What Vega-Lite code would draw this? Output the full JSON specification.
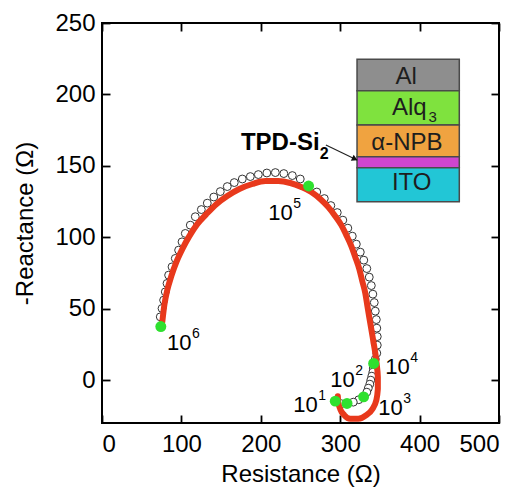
{
  "$schema": "https://vega.github.io/schema/vega-lite/v6.json",
  "width": 397,
  "height": 400,
  "autosize": {"type": "none"},
  "padding": {"left": 102, "top": 23, "right": 25, "bottom": 72},
  "background": "white",
  "config": {
    "view": {"stroke": "black", "strokeWidth": 2},
    "font": "Liberation Sans",
    "axis": {
      "domain": false,
      "grid": false,
      "tickColor": "black",
      "tickWidth": 1.8,
      "tickSize": 8,
      "offset": -8,
      "labelPadding": 10,
      "labelFont": "Liberation Sans",
      "labelFontSize": 24,
      "labelColor": "black",
      "titleFont": "Liberation Sans",
      "titleFontSize": 24,
      "titleFontWeight": "normal",
      "titleColor": "black"
    }
  },
  "datasets": {
    "circles": [
      {"x": 73.4, "y": 44.3}, {"x": 75.6, "y": 50.2}, {"x": 77.6, "y": 56.0}, {"x": 79.7, "y": 61.8},
      {"x": 81.9, "y": 67.7}, {"x": 83.9, "y": 73.5}, {"x": 88.2, "y": 79.3}, {"x": 92.3, "y": 85.2},
      {"x": 96.5, "y": 91.0}, {"x": 100.8, "y": 96.8}, {"x": 104.9, "y": 102.7}, {"x": 111.2, "y": 108.5},
      {"x": 117.5, "y": 114.4}, {"x": 125.1, "y": 119.4}, {"x": 132.6, "y": 123.9}, {"x": 140.8, "y": 128.2},
      {"x": 149.0, "y": 132.0}, {"x": 157.8, "y": 135.5}, {"x": 166.6, "y": 138.3}, {"x": 176.7, "y": 140.8},
      {"x": 186.8, "y": 142.5}, {"x": 196.9, "y": 143.9}, {"x": 207.6, "y": 145.0}, {"x": 218.3, "y": 145.3},
      {"x": 229.0, "y": 144.6}, {"x": 239.7, "y": 143.2}, {"x": 249.7, "y": 140.8}, {"x": 270.5, "y": 131.7},
      {"x": 280.0, "y": 127.1}, {"x": 288.2, "y": 122.2}, {"x": 296.3, "y": 117.3}, {"x": 303.3, "y": 112.0},
      {"x": 309.6, "y": 106.4}, {"x": 315.2, "y": 100.8}, {"x": 320.3, "y": 95.2}, {"x": 325.3, "y": 89.6},
      {"x": 329.7, "y": 84.0}, {"x": 333.5, "y": 78.1}, {"x": 336.6, "y": 72.1}, {"x": 339.2, "y": 66.2},
      {"x": 341.1, "y": 60.2}, {"x": 342.9, "y": 54.3}, {"x": 344.2, "y": 48.3}, {"x": 345.5, "y": 42.4},
      {"x": 346.1, "y": 36.4}, {"x": 346.7, "y": 30.5}, {"x": 346.7, "y": 24.5}, {"x": 346.1, "y": 18.9},
      {"x": 344.2, "y": 14.7}, {"x": 341.7, "y": 8.4}, {"x": 341.1, "y": 5.6}, {"x": 339.8, "y": 2.8},
      {"x": 338.5, "y": 0.0}, {"x": 337.3, "y": -2.8}, {"x": 335.4, "y": -5.6}, {"x": 333.5, "y": -8.4},
      {"x": 323.4, "y": -13.7}, {"x": 316.5, "y": -15.4}, {"x": 301.4, "y": -16.5}
    ],
    "fit": [
      {"i": 1, "x": 75.9, "y": 40.6}, {"i": 2, "x": 78.5, "y": 52.5}, {"i": 3, "x": 82.2, "y": 63.0},
      {"i": 4, "x": 87.3, "y": 72.8}, {"i": 5, "x": 93.6, "y": 82.6}, {"i": 6, "x": 101.1, "y": 91.7},
      {"i": 7, "x": 110.0, "y": 100.8}, {"i": 8, "x": 120.0, "y": 109.2}, {"i": 9, "x": 131.4, "y": 116.2},
      {"i": 10, "x": 144.0, "y": 123.2}, {"i": 11, "x": 157.8, "y": 128.9}, {"i": 12, "x": 172.9, "y": 133.8},
      {"i": 13, "x": 189.3, "y": 137.3}, {"i": 14, "x": 205.7, "y": 139.4}, {"i": 15, "x": 222.0, "y": 139.4},
      {"i": 16, "x": 237.2, "y": 138.0}, {"i": 17, "x": 251.0, "y": 135.2}, {"i": 18, "x": 263.6, "y": 131.7},
      {"i": 19, "x": 274.9, "y": 126.8}, {"i": 20, "x": 285.0, "y": 121.1}, {"i": 21, "x": 293.8, "y": 114.8},
      {"i": 22, "x": 301.4, "y": 108.5}, {"i": 23, "x": 307.7, "y": 101.5}, {"i": 24, "x": 314.0, "y": 93.8},
      {"i": 25, "x": 319.0, "y": 86.1}, {"i": 26, "x": 324.1, "y": 77.7}, {"i": 27, "x": 327.8, "y": 69.3},
      {"i": 28, "x": 331.6, "y": 60.9}, {"i": 29, "x": 334.1, "y": 52.5}, {"i": 30, "x": 336.6, "y": 44.1},
      {"i": 31, "x": 339.2, "y": 35.7}, {"i": 32, "x": 341.7, "y": 27.3}, {"i": 33, "x": 344.2, "y": 18.9},
      {"i": 34, "x": 346.1, "y": 10.5}, {"i": 35, "x": 347.4, "y": 2.1}, {"i": 36, "x": 347.4, "y": -6.3},
      {"i": 37, "x": 345.5, "y": -14.0}, {"i": 38, "x": 340.4, "y": -20.3}, {"i": 39, "x": 332.9, "y": -24.5},
      {"i": 40, "x": 322.8, "y": -27.0}, {"i": 41, "x": 312.8, "y": -27.0}, {"i": 42, "x": 305.2, "y": -24.5},
      {"i": 43, "x": 300.1, "y": -20.3}, {"i": 44, "x": 297.6, "y": -15.4}, {"i": 45, "x": 297.0, "y": -11.2}
    ],
    "green": [
      {"x": 74.1, "y": 37.5}, {"x": 260.2, "y": 135.9}, {"x": 342.1, "y": 11.7},
      {"x": 329.5, "y": -11.7}, {"x": 308.6, "y": -16.3}, {"x": 293.8, "y": -14.7}
    ],
    "freq": [
      {"x": 82, "y": 26, "base": "10", "e": "6"},
      {"x": 209.5, "y": 117, "base": "10", "e": "5"},
      {"x": 356.8, "y": 9.3, "base": "10", "e": "4"},
      {"x": 348, "y": -19.6, "base": "10", "e": "3"},
      {"x": 287.5, "y": 0, "base": "10", "e": "2"},
      {"x": 241, "y": -17.5, "base": "10", "e": "1"}
    ],
    "stack": [
      {"name": "Al", "x": 321.2, "x2": 450, "y": 224.6, "y2": 202.6},
      {"name": "Alq3", "x": 321.2, "x2": 450, "y": 202.6, "y2": 178.6},
      {"name": "α-NPB", "x": 321.2, "x2": 450, "y": 178.6, "y2": 156.4},
      {"name": "TPD-Si2", "x": 321.2, "x2": 450, "y": 156.4, "y2": 148.7},
      {"name": "ITO", "x": 321.2, "x2": 450, "y": 148.7, "y2": 124.9}
    ],
    "stacktext": [
      {"x": 383, "y": 212.4, "t": "Al"},
      {"x": 387, "y": 190.8, "t": "Alq"},
      {"x": 384, "y": 166.0, "t": "α-NPB"},
      {"x": 390, "y": 138.0, "t": "ITO"}
    ],
    "sub3": [{"x": 416.6, "y": 184.0, "t": "3"}],
    "sub2": [{"x": 280.0, "y": 158.0, "t": "2"}],
    "tpd": [{"x": 274.0, "y": 166.0, "t": "TPD-Si"}],
    "arrow": [{"x": 282.0, "y": 164.6, "x2": 321.2, "y2": 154.1}],
    "arrowhead": [{"x": 318.5, "y": 154.8}]
  },
  "layer": [
    {
      "data": {"name": "circles"},
      "mark": {"type": "point", "shape": "circle", "filled": true, "fill": "white", "stroke": "#333333", "strokeWidth": 1, "size": 62, "opacity": 1},
      "encoding": {
        "x": {"field": "x", "type": "quantitative", "scale": {"domain": [0, 500], "nice": false, "zero": false},
              "axis": {"orient": "bottom", "values": [0, 100, 200, 300, 400, 500], "title": "Resistance (Ω)", "labelPadding": 9, "titlePadding": 6}},
        "y": {"field": "y", "type": "quantitative", "scale": {"domain": [-30, 250], "nice": false, "zero": false},
              "axis": {"orient": "left", "values": [0, 50, 100, 150, 200, 250], "title": "-Reactance (Ω)", "labelPadding": 7, "titlePadding": 17}}
      }
    },
    {
      "data": {"name": "fit"},
      "mark": {"type": "line", "color": "#e8391c", "strokeWidth": 6, "strokeCap": "round", "strokeJoin": "round", "interpolate": "monotone"},
      "encoding": {
        "x": {"field": "x", "type": "quantitative", "scale": {"domain": [0, 500], "nice": false, "zero": false},
              "axis": {"orient": "top", "values": [0, 100, 200, 300, 400, 500], "labels": false, "title": null}},
        "y": {"field": "y", "type": "quantitative", "scale": {"domain": [-30, 250], "nice": false, "zero": false},
              "axis": {"orient": "right", "values": [0, 50, 100, 150, 200, 250], "labels": false, "title": null}},
        "order": {"field": "i", "type": "quantitative"}
      }
    },
    {
      "data": {"name": "green"},
      "mark": {"type": "point", "shape": "circle", "filled": true, "color": "#2fe02f", "size": 120, "opacity": 1},
      "encoding": {
        "x": {"field": "x", "type": "quantitative", "axis": null},
        "y": {"field": "y", "type": "quantitative", "axis": null}
      }
    },
    {
      "data": {"name": "freq"},
      "mark": {"type": "text", "align": "left", "baseline": "middle", "fontSize": 22, "color": "black"},
      "encoding": {
        "x": {"field": "x", "type": "quantitative", "axis": null},
        "y": {"field": "y", "type": "quantitative", "axis": null},
        "text": {"field": "base"}
      }
    },
    {
      "data": {"name": "freq"},
      "mark": {"type": "text", "align": "left", "baseline": "middle", "fontSize": 14, "dx": 25, "dy": -9, "color": "black"},
      "encoding": {
        "x": {"field": "x", "type": "quantitative", "axis": null},
        "y": {"field": "y", "type": "quantitative", "axis": null},
        "text": {"field": "e"}
      }
    },
    {
      "data": {"name": "stack"},
      "mark": {"type": "rect", "stroke": "#4a4a4a", "strokeWidth": 1.5},
      "encoding": {
        "x": {"field": "x", "type": "quantitative", "axis": null},
        "x2": {"field": "x2"},
        "y": {"field": "y", "type": "quantitative", "axis": null},
        "y2": {"field": "y2"},
        "color": {"field": "name", "type": "nominal", "legend": null,
                  "scale": {"domain": ["Al", "Alq3", "α-NPB", "TPD-Si2", "ITO"],
                            "range": ["#8e8e8e", "#7fe23e", "#f0a340", "#cf45cf", "#22c6d6"]}}
      }
    },
    {
      "data": {"name": "stacktext"},
      "mark": {"type": "text", "align": "center", "baseline": "middle", "fontSize": 24, "color": "#1e1e1e"},
      "encoding": {
        "x": {"field": "x", "type": "quantitative", "axis": null},
        "y": {"field": "y", "type": "quantitative", "axis": null},
        "text": {"field": "t"}
      }
    },
    {
      "data": {"name": "sub3"},
      "mark": {"type": "text", "align": "center", "baseline": "middle", "fontSize": 15, "color": "#1e1e1e"},
      "encoding": {
        "x": {"field": "x", "type": "quantitative", "axis": null},
        "y": {"field": "y", "type": "quantitative", "axis": null},
        "text": {"field": "t"}
      }
    },
    {
      "data": {"name": "sub2"},
      "mark": {"type": "text", "align": "center", "baseline": "middle", "fontSize": 16, "color": "black", "fontWeight": "bold"},
      "encoding": {
        "x": {"field": "x", "type": "quantitative", "axis": null},
        "y": {"field": "y", "type": "quantitative", "axis": null},
        "text": {"field": "t"}
      }
    },
    {
      "data": {"name": "tpd"},
      "mark": {"type": "text", "align": "right", "baseline": "middle", "fontSize": 24, "fontWeight": "bold", "color": "black"},
      "encoding": {
        "x": {"field": "x", "type": "quantitative", "axis": null},
        "y": {"field": "y", "type": "quantitative", "axis": null},
        "text": {"field": "t"}
      }
    },
    {
      "data": {"name": "arrow"},
      "mark": {"type": "rule", "color": "#222222", "strokeWidth": 1.2},
      "encoding": {
        "x": {"field": "x", "type": "quantitative", "axis": null},
        "y": {"field": "y", "type": "quantitative", "axis": null},
        "x2": {"field": "x2"},
        "y2": {"field": "y2"}
      }
    },
    {
      "data": {"name": "arrowhead"},
      "mark": {"type": "point", "shape": "triangle-right", "filled": true, "color": "#111111", "size": 45, "angle": 25, "opacity": 1},
      "encoding": {
        "x": {"field": "x", "type": "quantitative", "axis": null},
        "y": {"field": "y", "type": "quantitative", "axis": null}
      }
    }
  ],
  "resolve": {"axis": {"x": "independent", "y": "independent"}}
}
